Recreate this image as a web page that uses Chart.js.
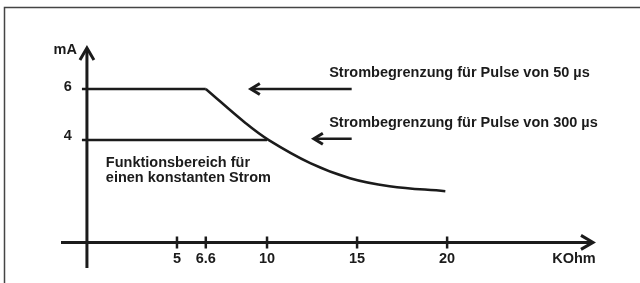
<!DOCTYPE html>
<html>
<head>
<meta charset="utf-8">
<script src="https://cdn.jsdelivr.net/npm/chart.js@4"></script>
<style>
  html, body { margin: 0; padding: 0; background: #fff; }
  #wrap { width: 640px; height: 283px; position: relative; }
</style>
</head>
<body>
<div id="wrap"><canvas id="chart"></canvas></div>
<script>
// tick labels on the axes
const xTicks = [5, 6.6, 10, 15, 20];
const yTicks = [6, 4];

// flat part of the current limit (KOhm -> mA)
const flatR = [0, 6.6];
const flatI = [6, 6];

// falling part of the current limit
const curveR = [6.6, 8.8, 10.1, 12.4, 14.6, 16.8, 19.9];
const curveI = [6, 4.67, 4.0, 3.1, 2.51, 2.2, 2.0];

// constant current line
const constR = [0, 10];
const constI = [4, 4];

// arrows pointing to the two limits
const arrow50R = [14.7, 9.1];
const arrow50I = [6, 6];
const arrow300R = [14.7, 12.6];
const arrow300I = [4.05, 4.05];

const ink = "#1b1b1b";
const FONT = "bold 14.5px 'Liberation Sans', Arial, sans-serif";

const pts = (xs, ys) => xs.map((x, i) => ({ x: x, y: ys[i] }));

// open arrow head; dir 1 = right, -1 = left, "up"
function chevron(ctx, x, y, dir, len, half) {
  ctx.beginPath();
  if (dir === "up") {
    ctx.moveTo(x - half, y + len);
    ctx.lineTo(x, y);
    ctx.lineTo(x + half, y + len);
  } else {
    ctx.moveTo(x - dir * len, y - half);
    ctx.lineTo(x, y);
    ctx.lineTo(x - dir * len, y + half);
  }
  ctx.stroke();
}

const diagram = {
  id: "diagram",
  beforeDatasetsDraw(chart) {
    const { ctx, scales } = chart;
    const xs = scales.x, ys = scales.y;
    ctx.save();
    // frame
    ctx.strokeStyle = "#444";
    ctx.lineWidth = 1.5;
    ctx.beginPath();
    ctx.moveTo(4.5, 283);
    ctx.lineTo(4.5, 7.5);
    ctx.lineTo(640, 7.5);
    ctx.stroke();

    // axes
    const x0 = xs.getPixelForValue(0), y0 = ys.getPixelForValue(0);
    ctx.strokeStyle = ink;
    ctx.lineWidth = 3;
    ctx.beginPath();
    ctx.moveTo(xs.left, y0);
    ctx.lineTo(xs.right - 1, y0);
    ctx.moveTo(x0, ys.bottom);
    ctx.lineTo(x0, ys.top + 1);
    ctx.stroke();
    ctx.lineJoin = "miter";
    chevron(ctx, xs.right, y0, 1, 12, 7);
    chevron(ctx, x0, ys.top, "up", 12, 7);

    // ticks
    ctx.lineWidth = 2.5;
    ctx.beginPath();
    xTicks.forEach(t => {
      const px = xs.getPixelForValue(t);
      ctx.moveTo(px, y0 - 6);
      ctx.lineTo(px, y0 + 6);
    });
    yTicks.forEach(t => {
      const py = ys.getPixelForValue(t);
      ctx.moveTo(x0 - 5, py);
      ctx.lineTo(x0, py);
    });
    ctx.stroke();

    // labels
    ctx.fillStyle = ink;
    ctx.font = FONT;
    ctx.textBaseline = "middle";
    ctx.textAlign = "center";
    xTicks.forEach(t => {
      ctx.fillText(String(t), xs.getPixelForValue(t), y0 + 17);
    });
    ctx.fillText("KOhm", xs.right - 19, y0 + 17);
    ctx.textAlign = "right";
    ctx.fillText("6", x0 - 15, ys.getPixelForValue(6) - 2);
    ctx.fillText("4", x0 - 15, ys.getPixelForValue(4) - 4);
    ctx.fillText("mA", x0 - 10, ys.top + 2);

    ctx.textAlign = "left";
    ctx.fillText("Strombegrenzung für Pulse von 50 µs", xs.getPixelForValue(13.45), ys.getPixelForValue(6.63));
    ctx.fillText("Strombegrenzung für Pulse von 300 µs", xs.getPixelForValue(13.45), ys.getPixelForValue(4.67));
    ctx.fillText("Funktionsbereich für", xs.getPixelForValue(1.05), ys.getPixelForValue(3.1));
    ctx.fillText("einen konstanten Strom", xs.getPixelForValue(1.05), ys.getPixelForValue(2.5));
    ctx.restore();
  },
  afterDatasetsDraw(chart) {
    const { ctx, scales } = chart;
    ctx.save();
    ctx.strokeStyle = ink;
    ctx.lineWidth = 3;
    ctx.lineJoin = "miter";
    [[arrow50R, arrow50I], [arrow300R, arrow300I]].forEach(([r, i]) => {
      chevron(ctx, scales.x.getPixelForValue(r[1]), scales.y.getPixelForValue(i[1]), -1, 9, 5.5);
    });
    ctx.restore();
  }
};

const lineStyle = {
  borderColor: ink,
  borderWidth: 2.5,
  pointRadius: 0,
  showLine: true,
  fill: false
};

new Chart(document.getElementById("chart"), {
  type: "scatter",
  data: {
    datasets: [
      { ...lineStyle, data: pts(flatR, flatI) },
      { ...lineStyle, data: pts(curveR, curveI), tension: 0.4 },
      { ...lineStyle, data: pts(constR, constI) },
      { ...lineStyle, data: pts(arrow50R, arrow50I) },
      { ...lineStyle, data: pts(arrow300R, arrow300I) }
    ]
  },
  options: {
    responsive: true,
    maintainAspectRatio: false,
    animation: false,
    layout: { padding: { left: 61, right: 47, top: 48, bottom: 15 } },
    plugins: { legend: { display: false }, tooltip: { enabled: false } },
    scales: {
      x: { type: "linear", min: -1.44, max: 28.1, display: false },
      y: { type: "linear", min: -1, max: 7.6, display: false }
    }
  },
  plugins: [diagram]
});
</script>
</body>
</html>
